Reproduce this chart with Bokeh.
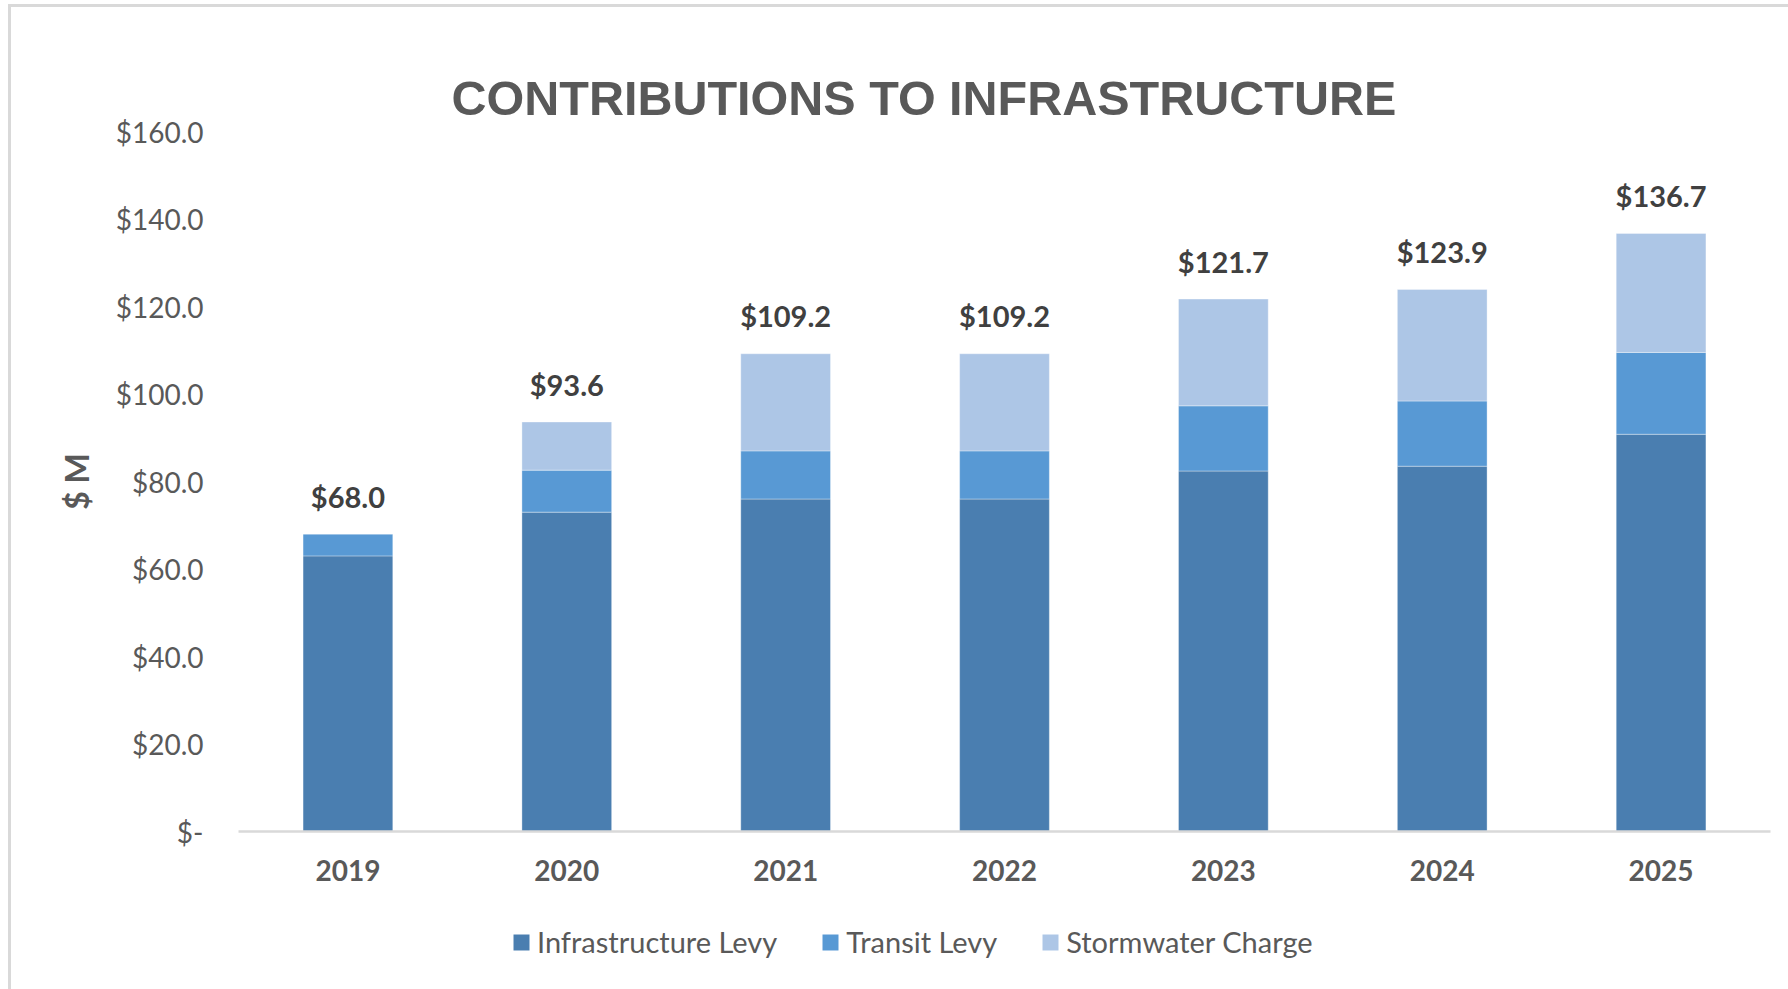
from bokeh.plotting import figure
from bokeh.models import FixedTicker, Legend, LegendItem, ColumnDataSource, Range1d
from bokeh.layouts import column
from bokeh.embed import file_html
from bokeh.resources import INLINE
from bokeh.core.properties import value

# ---- data ----
years = ["2019", "2020", "2021", "2022", "2023", "2024", "2025"]
infrastructure_levy = [63.0, 73.0, 76.0, 76.0, 82.4, 83.5, 90.8]
transit_levy = [5.0, 9.6, 11.0, 11.0, 14.9, 14.9, 18.7]
stormwater_charge = [0.0, 11.0, 22.2, 22.2, 24.4, 25.5, 27.2]
series_names = ["Infrastructure Levy", "Transit Levy", "Stormwater Charge"]
y_ticks = [0, 20, 40, 60, 80, 100, 120, 140, 160]
y_tick_labels = ["$-", "$20.0", "$40.0", "$60.0", "$80.0", "$100.0", "$120.0", "$140.0", "$160.0"]
title_text = "CONTRIBUTIONS TO INFRASTRUCTURE"
y_title = "$ M"

colors = ["#4a7eb0", "#5899d4", "#adc6e6"]
totals = [round(a + b + c, 1) for a, b, c in zip(infrastructure_levy, transit_levy, stormwater_charge)]
total_labels = ["$%.1f" % t for t in totals]

source = ColumnDataSource(dict(
    years=years,
    infra=infrastructure_levy,
    transit=transit_levy,
    storm=stormwater_charge,
    total=totals,
    label=total_labels,
))

FONT = "Lato"
GREY = "#595959"
BORDER = "3px solid #d9d9d9"

# ---------------- main chart ----------------
p = figure(x_range=years, y_range=Range1d(0, 160), width=1777, height=898,
           output_backend="svg", toolbar_location=None,
           min_border_left=227, min_border_right=18, min_border_top=124, min_border_bottom=74)
p.outline_line_color = None
p.xgrid.grid_line_color = None
p.ygrid.grid_line_color = None
p.background_fill_color = "white"
p.border_fill_color = "white"

p.title.text = title_text
p.title.align = "left"
p.title.offset = 213
p.title.standoff = 14
p.title.text_font = "Liberation Sans"
p.title.text_font_style = "bold"
p.title.text_font_size = "48.5px"
p.title.text_color = GREY

p.vbar_stack(["infra", "transit", "storm"], x="years", width=0.41, color=colors,
             line_color="white", line_alpha=0.35, line_width=1, source=source)

p.text(x="years", y="total", text="label", source=source, y_offset=-38,
       text_align="center", text_baseline="middle", text_font=value(FONT),
       text_font_style="bold", text_font_size="29px", text_color="#404040")

xa = p.xaxis[0]
xa.axis_line_color = "#d9d9d9"
xa.axis_line_width = 2.5
xa.major_tick_line_color = None
xa.minor_tick_line_color = None
xa.major_label_text_font = FONT
xa.major_label_text_font_style = "bold"
xa.major_label_text_font_size = "28px"
xa.major_label_text_color = GREY
xa.major_label_standoff = 22

ya = p.yaxis[0]
ya.ticker = FixedTicker(ticks=y_ticks)
ya.major_label_overrides = {t: lab for t, lab in zip(y_ticks, y_tick_labels)}
ya.axis_line_color = None
ya.major_tick_line_color = None
ya.minor_tick_line_color = None
ya.major_label_text_font = FONT
ya.major_label_text_font_size = "28px"
ya.major_label_text_color = GREY
ya.major_label_standoff = 29
ya.axis_label = y_title
ya.axis_label_text_font = FONT
ya.axis_label_text_font_style = "bold"
ya.axis_label_text_font_size = "32px"
ya.axis_label_text_color = GREY
ya.axis_label_standoff = 17

# ---------------- legend strip ----------------
lf = figure(width=1777, height=84, x_range=Range1d(0, 1), y_range=Range1d(0, 1),
            output_backend="svg", toolbar_location=None,
            min_border_left=227, min_border_right=18, min_border_top=0, min_border_bottom=0,
            x_axis_location=None, y_axis_location=None)
lf.outline_line_color = None
lf.xgrid.grid_line_color = None
lf.ygrid.grid_line_color = None
lf.background_fill_color = None
lf.border_fill_color = None

items = []
for name, c in zip(series_names, colors):
    # zero-height swatch renderer used only for the legend entry
    r = lf.vbar(x=[-5], bottom=[0], top=[0], width=0.01, fill_color=c, line_color=None)
    items.append(LegendItem(label=name, renderers=[r]))

legend = Legend(items=items, orientation="horizontal", location=(273, 30),
                glyph_width=20, glyph_height=20, label_standoff=6, spacing=43,
                padding=0, margin=0, border_line_color=None, background_fill_alpha=0,
                label_text_font=FONT, label_text_font_size="29px", label_text_color=GREY)
lf.add_layout(legend)

layout = column(p, lf, spacing=0)
layout.styles = {"margin-left": "8px", "margin-top": "4px", "border-left": BORDER,
                 "border-top": BORDER, "background-color": "white"}
open("out.html", "w").write(file_html(layout, INLINE))
